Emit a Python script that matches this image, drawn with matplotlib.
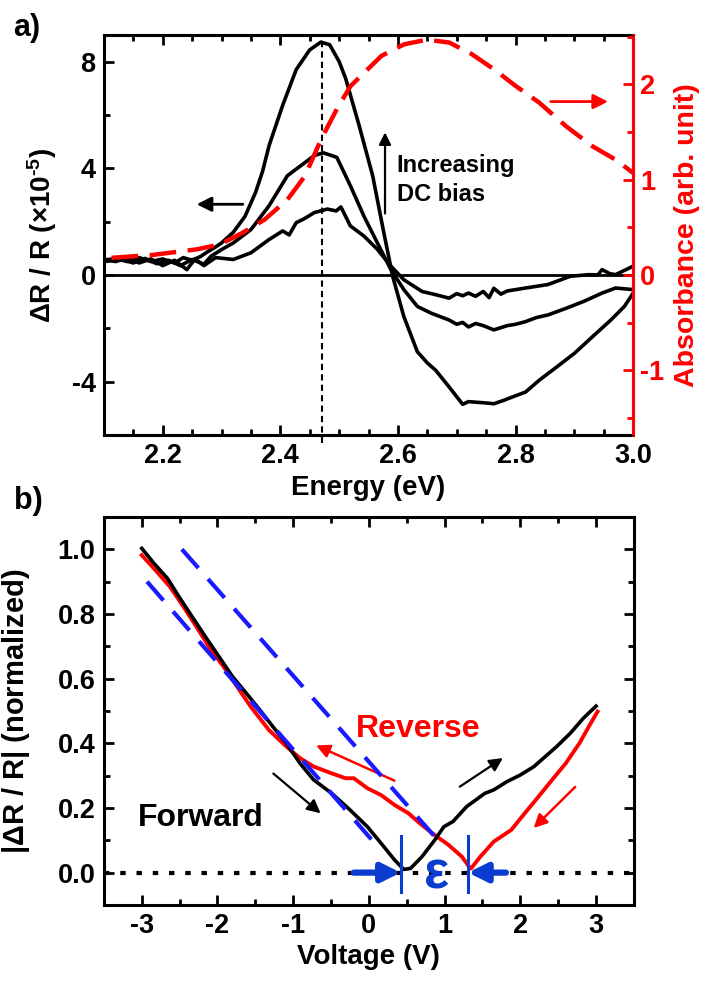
import numpy as np
import matplotlib
matplotlib.use("Agg")
import matplotlib.pyplot as plt
from matplotlib.ticker import MultipleLocator

plt.rcParams['font.family'] = ['Liberation Sans', 'DejaVu Sans']
plt.rcParams['font.weight'] = 'bold'
plt.rcParams['mathtext.fontset'] = 'custom'
plt.rcParams['mathtext.rm'] = 'Liberation Sans:bold'
plt.rcParams['mathtext.bf'] = 'Liberation Sans:bold'
plt.rcParams['mathtext.default'] = 'rm'
plt.rcParams['axes.unicode_minus'] = False

RED = '#ff0000'
BLUE = '#1a1aff'
DBLUE = '#0a3cd0'

# ---- panel a: electroreflectance spectra (3 bias levels) + absorbance
e_hi = [2.10, 2.12, 2.14, 2.16, 2.18, 2.20, 2.22, 2.235, 2.25, 2.265, 2.275, 2.29, 2.30, 2.32,
        2.34, 2.358, 2.37, 2.381, 2.404, 2.427, 2.45, 2.469, 2.484, 2.50, 2.511, 2.534, 2.557,
        2.576, 2.591, 2.61, 2.633, 2.65, 2.664, 2.687, 2.71, 2.72, 2.732, 2.75, 2.763, 2.78,
        2.794, 2.817, 2.84, 2.87, 2.90, 2.931, 2.962, 2.985, 3.0]
dr_hi = [0.55, 0.62, 0.50, 0.65, 0.50, 0.60, 0.45, 0.65, 0.55, 0.70, 0.85, 1.05, 1.2, 1.6,
         2.2, 3.1, 3.9, 4.86, 6.36, 7.7, 8.44, 8.73, 8.63, 8.0, 7.37, 5.6, 3.72,
         1.58, -0.05, -1.56, -2.88, -3.3, -3.57, -4.2, -4.85, -4.75, -4.77, -4.8, -4.83, -4.7,
         -4.58, -4.39, -3.95, -3.45, -2.94, -2.31, -1.69, -1.18, -0.68]

e_mid = [2.10, 2.13, 2.15, 2.17, 2.19, 2.21, 2.23, 2.25, 2.27, 2.282, 2.30, 2.32, 2.35, 2.381,
         2.412, 2.435, 2.458, 2.473, 2.496, 2.519, 2.542, 2.565, 2.588, 2.61, 2.633, 2.656,
         2.687, 2.70, 2.71, 2.72, 2.732, 2.745, 2.763, 2.786, 2.80, 2.817, 2.835, 2.855, 2.886,
         2.916, 2.947, 2.97, 3.0]
dr_mid = [0.50, 0.58, 0.45, 0.62, 0.42, 0.55, 0.35, 0.58, 0.40, 0.70, 0.95, 1.2, 1.7, 2.6,
          3.72, 4.1, 4.48, 4.58, 4.41, 3.35, 2.21, 1.2, 0.2, -0.55, -1.18, -1.43,
          -1.69, -1.85, -1.78, -1.95, -1.82, -1.9, -2.06, -1.9, -1.85, -1.75, -1.6, -1.5, -1.25,
          -0.99, -0.68, -0.49, -0.55]

e_lo = [2.10, 2.12, 2.14, 2.16, 2.18, 2.20, 2.22, 2.241, 2.255, 2.27, 2.29, 2.32, 2.35, 2.381,
        2.404, 2.415, 2.427, 2.44, 2.458, 2.48, 2.495, 2.503, 2.519, 2.542, 2.565, 2.588, 2.61,
        2.641, 2.664, 2.687, 2.70, 2.71, 2.72, 2.732, 2.745, 2.755, 2.763, 2.775, 2.786, 2.817,
        2.855, 2.893, 2.924, 2.94, 2.947, 2.96, 2.97, 3.0]
dr_lo = [0.60, 0.50, 0.65, 0.45, 0.60, 0.35, 0.55, 0.20, 0.60, 0.35, 0.65, 0.58, 0.83, 1.33,
         1.65, 1.5, 1.96, 2.1, 2.34, 2.47, 2.4, 2.55, 1.84, 1.46, 0.96, 0.33, -0.18,
         -0.62, -0.74, -0.87, -0.7, -0.78, -0.68, -0.8, -0.62, -0.85, -0.5, -0.72, -0.6, -0.49,
         -0.36, -0.05, 0.01, 0.0, 0.2, 0.05, 0.01, 0.33]

e_abs = [2.113, 2.183, 2.259, 2.297, 2.335, 2.373, 2.412, 2.442, 2.469, 2.496, 2.519, 2.542,
         2.572, 2.61, 2.649, 2.687, 2.725, 2.763, 2.801, 2.84, 2.886, 2.931, 2.97, 3.0]
absorb = [0.18, 0.21, 0.27, 0.32, 0.44, 0.58, 0.79, 1.04, 1.42, 1.74, 1.98, 2.12,
          2.3, 2.42, 2.47, 2.44, 2.32, 2.16, 1.98, 1.81, 1.56, 1.35, 1.21, 1.07]

peak_energy = 2.47

# ---- panel b: normalized |dR/R| vs voltage
v_fwd = [-3.0, -2.84, -2.66, -2.51, -2.33, -2.16, -1.98, -1.8, -1.62, -1.44, -1.27, -1.09,
         -0.91, -0.73, -0.49, -0.25, -0.02, 0.16, 0.34, 0.46, 0.55, 0.7, 0.87, 0.99, 1.11,
         1.29, 1.53, 1.65, 1.82, 2.0, 2.18, 2.33, 2.48, 2.66, 2.83, 3.0]
r_fwd = [1.003, 0.957, 0.91, 0.854, 0.79, 0.73, 0.668, 0.606, 0.555, 0.503, 0.452, 0.4,
         0.338, 0.287, 0.245, 0.194, 0.142, 0.091, 0.039, 0.01, 0.013, 0.049, 0.101, 0.142, 0.158,
         0.204, 0.245, 0.256, 0.281, 0.302, 0.328, 0.359, 0.39, 0.431, 0.477, 0.515]

v_rev = [-3.0, -2.84, -2.63, -2.45, -2.28, -2.1, -1.92, -1.74, -1.56, -1.32, -1.09, -0.91,
         -0.73, -0.49, -0.31, -0.2, -0.02, 0.16, 0.34, 0.52, 0.7, 0.87, 1.05, 1.23, 1.32,
         1.35, 1.47, 1.65, 1.88, 2.06, 2.24, 2.42, 2.6, 2.78, 2.93, 3.02]
r_rev = [0.982, 0.941, 0.885, 0.823, 0.761, 0.694, 0.637, 0.575, 0.513, 0.441, 0.39, 0.354,
         0.328, 0.307, 0.292, 0.292, 0.261, 0.24, 0.209, 0.184, 0.147, 0.116, 0.086, 0.049, 0.019,
         0.013, 0.049, 0.096, 0.132, 0.184, 0.235, 0.287, 0.338, 0.4, 0.462, 0.498]

# linear fits (end points)
fit1_v = [-2.93, 0.08]
fit1_r = [0.90, 0.09]
fit2_v = [-2.47, 0.95]
fit2_r = [1.00, 0.09]
eps_left, eps_right = 0.42, 1.31

fig = plt.figure(figsize=(7.02, 9.83), dpi=100)

# ================= panel a =================
ax = fig.add_axes([0.148, 0.5575, 0.754, 0.407])
ax.plot(e_hi, dr_hi, color='k', lw=2.6, zorder=3)
ax.plot(e_mid, dr_mid, color='k', lw=2.6, zorder=3)
ax.plot(e_lo, dr_lo, color='k', lw=2.6, zorder=3)
ax.axhline(0, color='k', lw=2.0, zorder=2)
ax.plot([peak_energy, peak_energy], [-6.3, 9], color='k', lw=1.5, ls=(0, (3, 2)),
        clip_on=False, zorder=2)
ax.set_xlim(2.1, 3.0)
ax.set_ylim(-6, 9)
ax.xaxis.set_major_locator(MultipleLocator(0.2))
ax.xaxis.set_minor_locator(MultipleLocator(0.05))
ax.yaxis.set_major_locator(MultipleLocator(4))
ax.yaxis.set_minor_locator(MultipleLocator(2))
ax.tick_params(which='both', direction='in', top=True, width=2, labelsize=19.5)
ax.tick_params(axis='y', which='both', right=False)
ax.tick_params(which='major', length=7, pad=6)
ax.tick_params(which='minor', length=4)
for s in ax.spines.values():
    s.set_linewidth(2.2)
ax.set_xlabel('Energy (eV)', fontsize=20, fontweight='bold')
ax.xaxis.set_label_coords(0.5, -0.1)
ax.set_ylabel(r'$\Delta$R / R ($\times$10$^{\text{-5}}$)', fontsize=20, fontweight='bold')
ax.yaxis.set_label_coords(-0.085, 0.5)

ax2 = ax.twinx()
ax2.plot(e_abs, absorb, color=RED, lw=3.2, ls=(0, (6, 2.6)), zorder=4)
ax2.set_ylim(-1.68, 2.52)
ax2.yaxis.set_major_locator(MultipleLocator(1))
ax2.yaxis.set_minor_locator(MultipleLocator(0.5))
ax2.tick_params(axis='y', which='both', direction='in', colors=RED, width=2, labelsize=19.5)
ax2.tick_params(which='major', length=7, pad=5)
ax2.tick_params(which='minor', length=4)
ax2.spines['right'].set_color(RED)
ax2.spines['right'].set_linewidth(2.2)
ax2.set_ylabel('Absorbance (arb. unit)', color=RED, fontsize=20.5, fontweight='bold')
ax2.yaxis.set_label_coords(1.078, 0.5)

ax.annotate('', xy=(2.253, 2.65), xytext=(2.341, 2.65),
            arrowprops=dict(arrowstyle='-|>', color='k', lw=2, mutation_scale=22))
ax.annotate('', xy=(2.578, 5.45), xytext=(2.578, 2.2),
            arrowprops=dict(arrowstyle='-|>', color='k', lw=1.6, mutation_scale=18))
ax.annotate('', xy=(2.962, 6.5), xytext=(2.855, 6.5),
            arrowprops=dict(arrowstyle='-|>', color=RED, lw=2, mutation_scale=22))
ax.text(2.598, 4.1, 'Increasing', fontsize=17, va='center', ha='left')
ax.text(2.598, 3.0, 'DC bias', fontsize=17, va='center', ha='left')

fig.text(0.018, 0.972, 'a)', fontsize=22, fontweight='bold', va='center')

# ================= panel b =================
bx = fig.add_axes([0.148, 0.0794, 0.755, 0.3947])
bx.plot([-3.5, 3.5], [0, 0], color='k', lw=3, ls=(0, (1.3, 2.6)), zorder=1)
bx.plot(fit1_v, fit1_r, color=BLUE, lw=3, ls=(0, (6, 3.5)), zorder=4)
bx.plot(fit2_v, fit2_r, color=BLUE, lw=3, ls=(0, (6, 3.5)), zorder=4)
bx.plot(v_rev, r_rev, color=RED, lw=2.8, zorder=2)
bx.plot(v_fwd, r_fwd, color='k', lw=2.6, zorder=3)

for v in (eps_left, eps_right):
    bx.plot([v, v], [-0.061, 0.113], color=DBLUE, lw=2.2, zorder=5)
bx.annotate('', xy=(eps_left, 0), xytext=(-0.2, 0),
            arrowprops=dict(arrowstyle='-|>', color=DBLUE, lw=4.5, mutation_scale=28,
                            shrinkA=0, shrinkB=0), zorder=6)
bx.annotate('', xy=(eps_right, 0), xytext=(1.81, 0),
            arrowprops=dict(arrowstyle='-|>', color=DBLUE, lw=4.5, mutation_scale=28,
                            shrinkA=0, shrinkB=0), zorder=6)
bx.text(0.9, -0.005, '\u03b5', color=DBLUE, fontsize=38, fontweight='bold',
        ha='center', va='center', zorder=6)

bx.annotate('', xy=(-0.61, 0.178), xytext=(-1.29, 0.312),
            arrowprops=dict(arrowstyle='-|>', color='k', lw=1.6, mutation_scale=20))
bx.annotate('', xy=(1.8, 0.359), xytext=(1.17, 0.261),
            arrowprops=dict(arrowstyle='-|>', color='k', lw=1.6, mutation_scale=20))
bx.annotate('', xy=(-0.73, 0.397), xytext=(0.37, 0.281),
            arrowprops=dict(arrowstyle='-|>', color=RED, lw=1.8, mutation_scale=20))
bx.annotate('', xy=(2.15, 0.132), xytext=(2.75, 0.271),
            arrowprops=dict(arrowstyle='-|>', color=RED, lw=1.8, mutation_scale=20))
bx.text(-0.17, 0.445, 'Reverse', color=RED, fontsize=23, fontweight='bold', va='center')
bx.text(-3.05, 0.168, 'Forward', color='k', fontsize=23, fontweight='bold', va='center')

bx.set_xlim(-3.5, 3.5)
bx.set_ylim(-0.1, 1.1)
bx.xaxis.set_major_locator(MultipleLocator(1))
bx.xaxis.set_minor_locator(MultipleLocator(0.5))
bx.yaxis.set_major_locator(MultipleLocator(0.2))
bx.yaxis.set_minor_locator(MultipleLocator(0.1))
bx.yaxis.set_major_formatter(matplotlib.ticker.FormatStrFormatter('%.1f'))
bx.tick_params(which='both', direction='in', top=True, right=True, width=2, labelsize=19.5)
bx.tick_params(which='major', length=7, pad=6)
bx.tick_params(which='minor', length=4)
for s in bx.spines.values():
    s.set_linewidth(2.2)
bx.set_xlabel('Voltage (V)', fontsize=20, fontweight='bold')
bx.xaxis.set_label_coords(0.5, -0.1)
bx.set_ylabel(r'|$\Delta$R / R| (normalized)', fontsize=21, fontweight='bold')
bx.yaxis.set_label_coords(-0.135, 0.5)

fig.text(0.02, 0.49, 'b)', fontsize=22, fontweight='bold', va='center')

fig.savefig('out.png', dpi=100)
